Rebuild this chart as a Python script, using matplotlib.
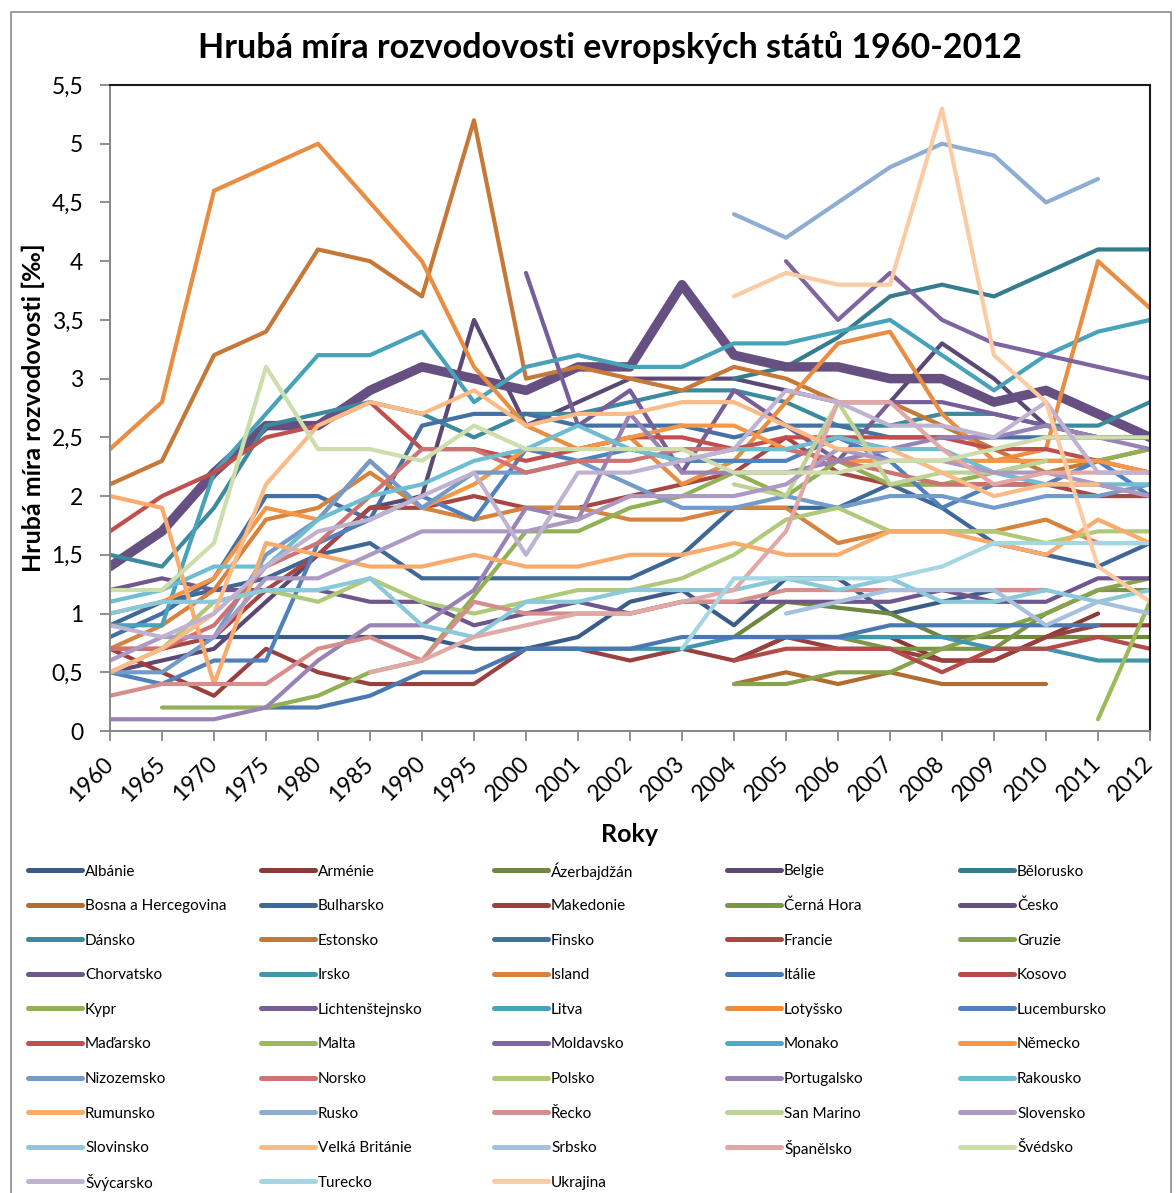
import numpy as np
import matplotlib.pyplot as plt
from matplotlib.lines import Line2D
from matplotlib.patches import Rectangle

N = np.nan

years = ["1960", "1965", "1970", "1975", "1980", "1985", "1990", "1995", "2000",
         "2001", "2002", "2003", "2004", "2005", "2006", "2007", "2008", "2009",
         "2010", "2011", "2012"]

countries = ["Albánie", "Arménie", "Ázerbajdžán", "Belgie", "Bělorusko",
             "Bosna a Hercegovina", "Bulharsko", "Makedonie", "Černá Hora", "Česko",
             "Dánsko", "Estonsko", "Finsko", "Francie", "Gruzie",
             "Chorvatsko", "Irsko", "Island", "Itálie", "Kosovo",
             "Kypr", "Lichtenštejnsko", "Litva", "Lotyšsko", "Lucembursko",
             "Maďarsko", "Malta", "Moldavsko", "Monako", "Německo",
             "Nizozemsko", "Norsko", "Polsko", "Portugalsko", "Rakousko",
             "Rumunsko", "Rusko", "Řecko", "San Marino", "Slovensko",
             "Slovinsko", "Velká Británie", "Srbsko", "Španělsko", "Švédsko",
             "Švýcarsko", "Turecko", "Ukrajina"]

# values per country, 1960 ... 2012 (NaN = no data)
albanie = [N, N, 0.8, 0.8, 0.8, 0.8, 0.8, 0.7, 0.7, 0.8, 1.1, 1.2, 0.9, 1.3, 1.3, 1.0, 1.1, 1.2, 1.2, N, N]
armenie = [N, N, N, N, N, N, N, N, N, N, N, N, 0.6, 0.8, 0.8, 0.8, 0.6, 0.6, 0.8, 1.0, N]
azerbajdzan = [N, N, N, N, N, N, N, N, N, N, N, N, 0.8, 1.1, 1.05, 1.0, 0.8, 0.8, 0.8, 0.8, 0.8]
belgie = [0.5, 0.6, 0.7, 1.1, 1.5, 1.9, 2.0, 3.5, 2.6, 2.8, 3.0, 3.0, 3.0, 2.9, 2.8, 2.8, 3.3, 3.0, 2.6, 2.5, 2.5]
belorusko = [N, N, N, N, N, N, N, N, N, N, N, N, 3.0, 3.1, 3.35, 3.7, 3.8, 3.7, 3.9, 4.1, 4.1]
bosna = [N, N, N, N, N, N, N, N, N, N, N, N, 0.4, 0.5, 0.4, 0.5, 0.4, 0.4, 0.4, N, N]
bulharsko = [0.9, 1.1, 1.2, 1.3, 1.5, 1.6, 1.3, 1.3, 1.3, 1.3, 1.3, 1.5, 1.9, 1.9, 1.9, 2.1, 1.9, 1.6, 1.5, 1.4, 1.6]
makedonie = [0.7, 0.5, 0.3, 0.7, 0.5, 0.4, 0.4, 0.4, 0.7, 0.7, 0.6, 0.7, 0.6, 0.8, 0.7, 0.7, 0.6, 0.6, 0.8, 0.9, 0.9]
cerna_hora = [N, N, N, N, N, N, N, N, N, N, N, N, N, 0.8, 0.8, 0.7, 0.7, 0.7, 1.0, 1.2, 1.2]
cesko = [1.4, 1.7, 2.2, 2.6, 2.6, 2.9, 3.1, 3.0, 2.9, 3.1, 3.1, 3.8, 3.2, 3.1, 3.1, 3.0, 3.0, 2.8, 2.9, 2.7, 2.5]
dansko = [1.5, 1.4, 1.9, 2.6, 2.7, 2.8, 2.7, 2.5, 2.7, 2.7, 2.8, 2.9, 2.9, 2.8, 2.6, 2.6, 2.7, 2.7, 2.6, 2.6, 2.8]
estonsko = [2.1, 2.3, 3.2, 3.4, 4.1, 4.0, 3.7, 5.2, 3.0, 3.1, 3.0, 2.9, 3.1, 3.0, 2.8, 2.8, 2.6, 2.4, 2.2, 2.3, 2.4]
finsko = [0.8, 1.0, 1.3, 2.0, 2.0, 1.8, 2.6, 2.7, 2.7, 2.6, 2.6, 2.6, 2.5, 2.6, 2.6, 2.5, 2.5, 2.5, 2.5, 2.5, 2.5]
francie = [0.7, 0.7, 0.8, 1.2, 1.5, 1.9, 1.9, 2.0, 1.9, 1.9, 2.0, 2.1, 2.2, 2.5, 2.2, 2.1, 2.1, 2.1, 2.1, 2.0, 2.0]
gruzie = [N, N, N, N, N, N, N, N, N, N, N, N, 0.4, 0.4, 0.5, 0.5, 0.7, 0.85, 1.0, 1.2, 1.3]
chorvatsko = [1.2, 1.3, 1.2, 1.2, 1.2, 1.1, 1.1, 0.9, 1.0, 1.1, 1.0, 1.1, 1.1, 1.1, 1.1, 1.1, 1.2, 1.1, 1.1, 1.3, 1.3]
irsko = [N, N, N, N, N, N, N, N, 0.7, 0.7, 0.7, 0.7, 0.8, 0.8, 0.8, 0.8, 0.8, 0.7, 0.7, 0.6, 0.6]
island = [0.7, 0.9, 1.2, 1.8, 1.9, 2.2, 1.9, 1.8, 1.9, 1.9, 1.8, 1.8, 1.9, 1.9, 1.6, 1.7, 1.7, 1.7, 1.8, 1.6, 1.6]
italie = [N, N, N, 0.2, 0.2, 0.3, 0.5, 0.5, 0.7, 0.7, 0.7, 0.8, 0.8, 0.8, 0.8, 0.9, 0.9, 0.9, 0.9, 0.9, N]
kosovo = [N, N, N, N, N, N, N, N, N, N, N, N, 0.6, 0.7, 0.7, 0.7, 0.5, 0.7, 0.7, 0.8, 0.7]
kypr = [N, 0.2, 0.2, 0.2, 0.3, 0.5, 0.6, 1.15, 1.7, 1.7, 1.9, 2.0, 2.2, 2.0, 2.3, 2.1, 2.1, 2.2, 2.3, 2.3, 2.4]
lichtenstejnsko = [N, N, N, N, N, N, N, N, 3.9, 2.6, 2.9, 2.2, 2.9, 2.6, 2.3, 2.8, 2.8, 2.7, 2.6, 2.5, 2.5]
litva = [0.9, 0.9, 2.2, 2.7, 3.2, 3.2, 3.4, 2.8, 3.1, 3.2, 3.1, 3.1, 3.3, 3.3, 3.4, 3.5, 3.2, 2.9, 3.2, 3.4, 3.5]
lotyssko = [2.4, 2.8, 4.6, 4.8, 5.0, 4.5, 4.0, 3.1, 2.6, 2.4, 2.5, 2.1, 2.3, 2.8, 3.3, 3.4, 2.7, 2.3, 2.4, 4.0, 3.6]
lucembursko = [0.5, 0.4, 0.6, 0.6, 1.6, 1.8, 2.0, 1.8, 2.4, 2.3, 2.4, 2.3, 2.3, 2.3, 2.5, 2.3, 1.9, 2.1, 2.1, 2.3, 2.0]
madarsko = [1.7, 2.0, 2.2, 2.5, 2.6, 2.8, 2.4, 2.4, 2.3, 2.4, 2.5, 2.5, 2.4, 2.5, 2.5, 2.5, 2.5, 2.4, 2.4, 2.3, 2.2]
malta = [N, N, N, N, N, N, N, N, N, N, N, N, N, N, N, N, N, N, N, 0.1, 1.1]
moldavsko = [N, N, N, N, N, N, N, N, N, N, N, N, N, 4.0, 3.5, 3.9, 3.5, 3.3, 3.2, 3.1, 3.0]
monako = [N] * 21
nemecko = [1.0, 1.1, 1.3, 1.9, 1.8, 2.3, 1.9, 2.1, 2.4, 2.4, 2.5, 2.6, 2.6, 2.4, 2.3, 2.3, 2.3, 2.3, 2.3, 2.3, 2.2]
nizozemsko = [0.5, 0.5, 0.8, 1.5, 1.8, 2.3, 1.9, 2.2, 2.2, 2.3, 2.1, 1.9, 1.9, 2.0, 1.9, 2.0, 2.0, 1.9, 2.0, 2.0, 2.1]
norsko = [0.7, 0.7, 0.9, 1.4, 1.6, 2.0, 2.4, 2.4, 2.2, 2.3, 2.3, 2.4, 2.4, 2.4, 2.3, 2.2, 2.1, 2.1, 2.1, 2.1, 2.0]
polsko = [0.5, 0.7, 1.1, 1.2, 1.1, 1.3, 1.1, 1.0, 1.1, 1.2, 1.2, 1.3, 1.5, 1.8, 1.9, 1.7, 1.7, 1.7, 1.6, 1.7, 1.7]
portugalsko = [0.1, 0.1, 0.1, 0.2, 0.6, 0.9, 0.9, 1.2, 1.9, 1.8, 2.7, 2.2, 2.2, 2.2, 2.3, 2.4, 2.5, 2.5, 2.6, 2.5, 2.4]
rakousko = [1.1, 1.2, 1.4, 1.4, 1.8, 2.0, 2.1, 2.3, 2.4, 2.6, 2.4, 2.3, 2.4, 2.4, 2.5, 2.4, 2.4, 2.2, 2.1, 2.1, 2.1]
rumunsko = [2.0, 1.9, 0.4, 1.6, 1.5, 1.4, 1.4, 1.5, 1.4, 1.4, 1.5, 1.5, 1.6, 1.5, 1.5, 1.7, 1.7, 1.6, 1.5, 1.8, 1.6]
rusko = [N, N, N, N, N, N, N, N, N, N, N, N, 4.4, 4.2, 4.5, 4.8, 5.0, 4.9, 4.5, 4.7, N]
recko = [0.3, 0.4, 0.4, 0.4, 0.7, 0.8, 0.6, 1.1, 1.0, 1.0, 1.0, 1.1, 1.1, 1.2, 1.2, 1.2, 1.2, 1.2, 1.2, N, N]
san_marino = [N, N, N, N, N, N, N, N, N, N, N, N, 2.1, 2.0, 2.8, 2.1, 2.2, 2.2, 2.3, N, N]
slovensko = [0.6, 0.8, 0.8, 1.3, 1.3, 1.5, 1.7, 1.7, 1.7, 1.8, 2.0, 2.0, 2.0, 2.1, 2.4, 2.3, 2.3, 2.2, 2.2, 2.1, 2.0]
slovinsko = [1.0, 1.1, 1.1, 1.2, 1.2, 1.3, 0.9, 0.8, 1.1, 1.1, 1.2, 1.2, 1.2, 1.3, 1.2, 1.3, 1.1, 1.1, 1.2, 1.1, 1.2]
velka_britanie = [0.5, 0.7, 1.0, 2.1, 2.6, 2.8, 2.7, 2.9, 2.6, 2.7, 2.7, 2.8, 2.8, 2.6, 2.4, 2.4, 2.2, 2.0, 2.1, 2.1, N]
srbsko = [N, N, N, N, N, N, N, N, N, N, N, N, N, 1.0, 1.1, 1.2, 1.2, 1.2, 0.9, 1.1, 1.0]
spanelsko = [N, N, N, N, N, 0.5, 0.6, 0.8, 0.9, 1.0, 1.0, 1.1, 1.2, 1.7, 2.8, 2.8, 2.4, 2.1, 2.2, 2.2, 2.2]
svedsko = [1.2, 1.2, 1.6, 3.1, 2.4, 2.4, 2.3, 2.6, 2.4, 2.4, 2.4, 2.4, 2.2, 2.2, 2.2, 2.3, 2.3, 2.4, 2.5, 2.5, 2.5]
svycarsko = [0.9, 0.8, 1.0, 1.4, 1.7, 1.8, 2.0, 2.2, 1.5, 2.2, 2.2, 2.3, 2.4, 2.9, 2.8, 2.6, 2.6, 2.5, 2.8, 2.2, 2.2]
turecko = [N, N, N, N, N, N, N, N, N, N, N, 0.7, 1.3, 1.3, 1.3, 1.3, 1.4, 1.6, 1.6, 1.6, 1.6]
ukrajina = [N, N, N, N, N, N, N, N, N, N, N, N, 3.7, 3.9, 3.8, 3.8, 5.3, 3.2, 2.8, 1.4, 1.1]

series = [albanie, armenie, azerbajdzan, belgie, belorusko,
          bosna, bulharsko, makedonie, cerna_hora, cesko,
          dansko, estonsko, finsko, francie, gruzie,
          chorvatsko, irsko, island, italie, kosovo,
          kypr, lichtenstejnsko, litva, lotyssko, lucembursko,
          madarsko, malta, moldavsko, monako, nemecko,
          nizozemsko, norsko, polsko, portugalsko, rakousko,
          rumunsko, rusko, recko, san_marino, slovensko,
          slovinsko, velka_britanie, srbsko, spanelsko, svedsko,
          svycarsko, turecko, ukrajina]

# office accent colours, shaded darker -> lighter every 6 series
accents = [(79, 129, 189), (192, 80, 77), (155, 187, 89),
           (128, 100, 162), (75, 172, 198), (247, 150, 70)]
shades = [-0.28, -0.2, -0.13, -0.06, 0.0, 0.2, 0.35, 0.5]


def shade(rgb, f):
    c = np.array(rgb, dtype=float)
    if f < 0:
        c = c * (1 + f)
    else:
        c = c + (255 - c) * f
    return c / 255


colors = [shade(accents[i % 6], shades[i // 6]) for i in range(len(countries))]

FONT = ['Lato', 'DejaVu Sans']
plt.rcParams['font.family'] = FONT

W, H = 1176, 1193
fig = plt.figure(figsize=(W / 100, H / 100), dpi=100)
ax = fig.add_axes([110 / W, 1 - 731 / H, 1040 / W, 646 / H])

x = np.arange(len(years))
for i, (name, vals) in enumerate(zip(countries, series)):
    lw = 6.8 if name == "Česko" else 3.0
    ax.plot(x, vals, color=colors[i], lw=lw, solid_capstyle='round',
            solid_joinstyle='round', label=name)

ax.set_xlim(0, len(years) - 1)
ax.set_ylim(0, 5.5)
yt = np.arange(0, 5.51, 0.5)
ax.set_yticks(yt)
ax.set_yticklabels([f"{v:g}".replace('.', ',') for v in yt], fontsize=16.5)
ax.set_xticks(x)
ax.set_xticklabels(years, fontsize=16.5, rotation=45, ha='right', va='center',
                   rotation_mode='anchor')
ax.tick_params(axis='x', length=7.2, width=1.3, color='#868686', pad=14)
ax.tick_params(axis='y', length=7.2, width=1.3, color='#868686', pad=12)
for s in ['left', 'bottom']:
    ax.spines[s].set_color('#868686')
    ax.spines[s].set_linewidth(1.4)
for s in ['top', 'right']:
    ax.spines[s].set_color('#1a1a1a')
    ax.spines[s].set_linewidth(1.5)

fig.text(33 / W, 1 - 408 / H, "Hrubá míra rozvodovosti [‰]", fontsize=18,
         fontweight='bold', rotation=90, ha='center', va='center')
fig.text(630 / W, 1 - 835 / H, "Roky", fontsize=18, fontweight='bold',
         ha='center', va='center')
fig.text(610 / W, 1 - 48 / H, "Hrubá míra rozvodovosti evropských států 1960-2012",
         fontsize=24.5, fontweight='bold', ha='center', va='center')

# legend, filled row by row like the original
for i, name in enumerate(countries):
    r, c = divmod(i, 5)
    lx = 28 + c * 233
    ly = 870 + r * 34.6
    fig.add_artist(Line2D([lx / W, (lx + 54) / W], [1 - ly / H, 1 - ly / H],
                          color=colors[i], lw=3.6, solid_capstyle='round',
                          transform=fig.transFigure))
    fig.text((lx + 57) / W, 1 - ly / H, name, fontsize=11, ha='left',
             va='center_baseline')

fig.add_artist(Rectangle((11 / W, -0.01), 1160 / W, 1 - 12 / H + 0.01,
                         transform=fig.transFigure, fill=False,
                         edgecolor='#8c8c8c', lw=1.2))

fig.savefig("out.png", dpi=100)
